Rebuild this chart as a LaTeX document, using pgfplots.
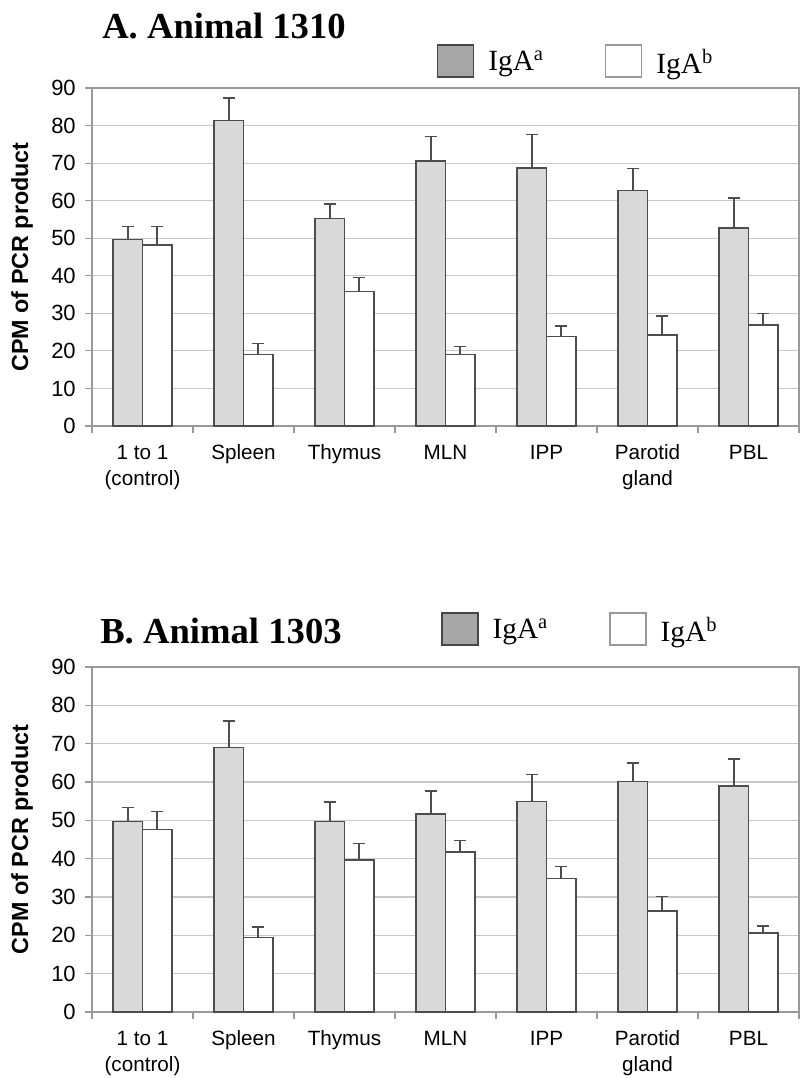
\documentclass[border=0pt]{standalone}
\usepackage{fontspec}
\setmainfont{Liberation Sans}
\newfontfamily\titlefont{Liberation Serif}
\usepackage{pgfplots}
\pgfplotsset{compat=1.18}
\definecolor{bargrey}{HTML}{D9D9D9}
\definecolor{leggrey}{HTML}{A6A6A6}
\definecolor{edgec}{HTML}{4D4D4D}
\definecolor{gridc}{HTML}{C8C8C8}
\definecolor{axisc}{HTML}{999999}
\pgfplotsset{
  panel/.style={
    scale only axis,
    width=530.25pt,
    ymin=0, ymax=90,
    xmin=-0.5, xmax=6.5,
    ytick={0,10,...,90},
    xtick={0,...,6},
    xticklabels={\strut 1 to 1\\(control),\strut Spleen,\strut Thymus,\strut MLN,\strut IPP,\strut Parotid\\gland,\strut PBL},
    minor xtick={-0.5,0.5,...,6.5},
    major x tick style={draw=none},
    minor x tick style={axisc, line width=0.8pt},
    y tick style={axisc, line width=0.8pt},
    tick align=outside,
    tick pos=left,
    major tick length=5pt,
    minor tick length=5pt,
    ymajorgrids,
    grid style={gridc, line width=0.8pt},
    axis line style={axisc, line width=0.8pt},
    /pgf/number format/assume math mode=true,
    yticklabel style={font=\fontsize{16.5}{18}\selectfont, inner sep=0pt, xshift=-7pt},
    xticklabel style={font=\fontsize{15.5}{19.5}\selectfont, align=center, anchor=north, yshift=-3pt},
    ylabel={\bfseries CPM of PCR product},
    every axis y label/.style={at={(axis description cs:-0.099,0.5)}, rotate=90, anchor=center, font=\fontsize{17.5}{20}\selectfont},
    ybar=0pt,
    bar width=0.29,
    legend columns=2,
    legend style={draw=none, fill=none, inner sep=0pt, outer sep=0pt,
      font=\titlefont\fontsize{22}{24}\selectfont,
      nodes={inner sep=0pt},
      /tikz/every odd column/.append style={column sep=10.5pt},
      /tikz/every even column/.append style={column sep=46pt}},
    error bars/y dir=plus,
    error bars/y explicit,
    error bars/error bar style={edgec, line width=1.1pt},
    error bars/error mark options={edgec, line width=1.1pt, mark size=4.5pt, rotate=90},
  },
  barA/.style={fill=bargrey, draw=edgec, line width=1.1pt, bar shift=-0.145},
  barB/.style={fill=white, draw=edgec, line width=1.1pt, bar shift=0.145},
  legA/.style={legend image code/.code={\draw[fill=leggrey, draw=gray!55!black, line width=1pt] (0pt,-11.25pt) rectangle (27pt,12.75pt);}},
  legB/.style={legend image code/.code={\draw[fill=white, draw=gray!80, line width=1pt] (0pt,-11.25pt) rectangle (27pt,12.75pt);}},
}
\begin{document}
\begin{tikzpicture}
\useasboundingbox (0,0) rectangle (602.25pt,-808.5pt);
\node[anchor=base west, font=\titlefont\bfseries\fontsize{27.5}{29}\selectfont, inner sep=0pt] at (76.5pt,-28.5pt) {A. Animal 1310};
\node[anchor=base west, font=\titlefont\bfseries\fontsize{27.5}{29}\selectfont, inner sep=0pt] at (75pt,-482.25pt) {B. Animal 1303};

\begin{axis}[panel, height=253.5pt, at={(69pt,-319.5pt)}, anchor=south west,
  legend style={at={(0.488,1.080)}, anchor=west}]
\addlegendimage{legA}
\addlegendentry{IgA\textsuperscript{a}}
\addlegendimage{legB}
\addlegendentry{IgA\textsuperscript{b}}
\addplot[barA, forget plot] coordinates {
 (0,49.7) +- (0,3.4)
 (1,81.3) +- (0,6.0)
 (2,55.2) +- (0,3.9)
 (3,70.6) +- (0,6.5)
 (4,68.7) +- (0,8.9)
 (5,62.7) +- (0,5.8)
 (6,52.7) +- (0,8.0)
};
\addplot[barB, forget plot] coordinates {
 (0,48.2) +- (0,4.9)
 (1,19.0) +- (0,3.0)
 (2,35.8) +- (0,3.8)
 (3,19.0) +- (0,2.1)
 (4,23.8) +- (0,2.8)
 (5,24.2) +- (0,5.1)
 (6,26.9) +- (0,3.0)
};
\end{axis}

\begin{axis}[panel, height=258.75pt, at={(69pt,-759pt)}, anchor=south west,
  legend style={at={(0.494,1.110)}, anchor=west}]
\addlegendimage{legA}
\addlegendentry{IgA\textsuperscript{a}}
\addlegendimage{legB}
\addlegendentry{IgA\textsuperscript{b}}
\addplot[barA, forget plot] coordinates {
 (0,49.7) +- (0,3.6)
 (1,69.0) +- (0,6.9)
 (2,49.7) +- (0,5.1)
 (3,51.7) +- (0,5.9)
 (4,54.9) +- (0,7.1)
 (5,60.2) +- (0,4.8)
 (6,59.0) +- (0,7.0)
};
\addplot[barB, forget plot] coordinates {
 (0,47.6) +- (0,4.7)
 (1,19.4) +- (0,2.8)
 (2,39.7) +- (0,4.2)
 (3,41.7) +- (0,3.1)
 (4,34.8) +- (0,3.2)
 (5,26.3) +- (0,3.9)
 (6,20.6) +- (0,1.8)
};
\end{axis}
\end{tikzpicture}
\end{document}
